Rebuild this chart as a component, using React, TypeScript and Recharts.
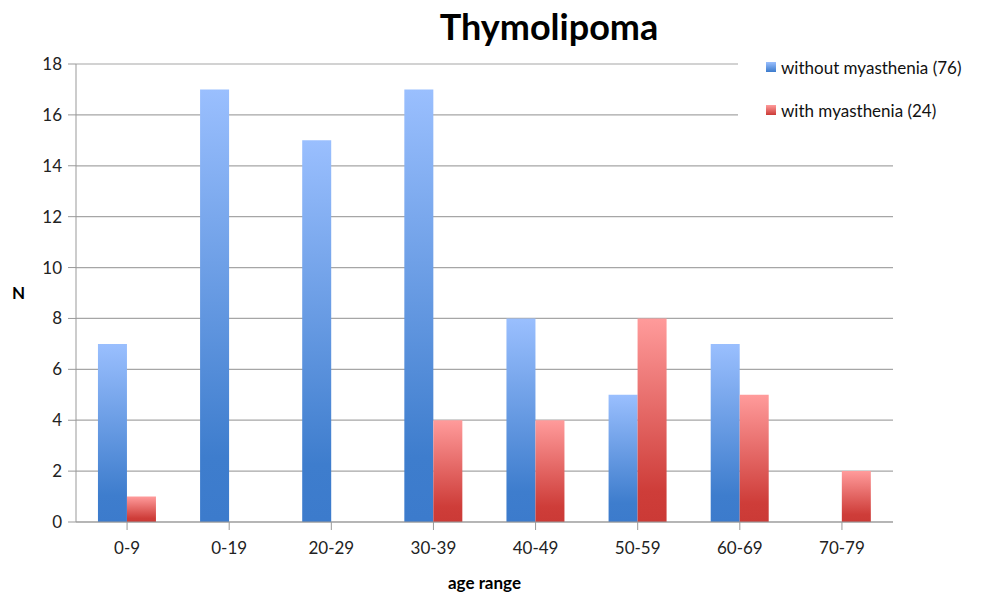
import React from 'react';
import { BarChart, Bar, XAxis, YAxis, CartesianGrid } from 'recharts';

const ageRanges = ['0-9', '0-19', '20-29', '30-39', '40-49', '50-59', '60-69', '70-79'];
const withoutMyasthenia = [7, 17, 15, 17, 8, 5, 7, 0];
const withMyasthenia = [1, 0, 0, 4, 4, 8, 5, 2];
const yTicks = [0, 2, 4, 6, 8, 10, 12, 14, 16, 18];

const data = ageRanges.map((range, i) => ({
  range,
  without: withoutMyasthenia[i],
  with: withMyasthenia[i],
}));

const FONT = 'Lato, "Open Sans", sans-serif';

const legendItems = [
  { label: 'without myasthenia (76)', grad: 'linear-gradient(#9abffe, #3c7bcc)' },
  { label: 'with myasthenia (24)', grad: 'linear-gradient(#ff9b9b, #cb3a36)' },
];

// legend drawn as plain html on a white box that covers the top grid lines, like excel does
const LegendBox = () => (
  <div
    style={{
      position: 'absolute',
      left: 738,
      top: 45,
      width: 255,
      height: 90,
      paddingLeft: 28,
      paddingTop: 10,
      boxSizing: 'border-box',
      background: '#fff',
      fontFamily: FONT,
      fontSize: 17,
      color: '#111',
    }}
  >
    {legendItems.map((it) => (
      <div key={it.label} style={{ display: 'flex', alignItems: 'center', height: 24, marginBottom: 19 }}>
        <span style={{ display: 'inline-block', width: 10, height: 10, background: it.grad, marginRight: 5 }} />
        <span>{it.label}</span>
      </div>
    ))}
  </div>
);

export default function App() {
  return (
    <div style={{ position: 'absolute', left: 0, top: 0, width: 993, height: 592, background: '#fff' }}>
      <div
        style={{
          position: 'absolute',
          left: 0,
          width: 1098,
          top: 4,
          textAlign: 'center',
          fontFamily: FONT,
          fontWeight: 'bold',
          fontSize: 36,
          color: '#000',
        }}
      >
        Thymolipoma
      </div>
      <BarChart
        width={993}
        height={592}
        data={data}
        margin={{ top: 64, right: 100, bottom: 0, left: 0 }}
        barCategoryGap="21.5%"
        barGap={0}
      >
        <defs>
          <linearGradient id="gBlue" x1="0" y1="0" x2="0" y2="1">
            <stop offset="0%" stopColor="#9abffe" />
            <stop offset="85%" stopColor="#3e7dcd" />
            <stop offset="100%" stopColor="#3c7bcc" />
          </linearGradient>
          <linearGradient id="gRed" x1="0" y1="0" x2="0" y2="1">
            <stop offset="0%" stopColor="#ff9b9b" />
            <stop offset="85%" stopColor="#ce3d39" />
            <stop offset="100%" stopColor="#cb3a36" />
          </linearGradient>
        </defs>
        <CartesianGrid vertical={false} stroke="#a6a6a6" strokeWidth={1.2} />
        <XAxis
          dataKey="range"
          height={70}
          tickSize={8}
          tickMargin={12}
          axisLine={{ stroke: '#999' }}
          tickLine={{ stroke: '#999' }}
          tick={{ fontSize: 17, fill: '#222', fontFamily: FONT }}
          interval={0}
          label={{
            value: 'age range',
            position: 'insideBottom',
            offset: 3,
            style: { fontFamily: FONT, fontWeight: 'bold', fontSize: 17, fill: '#000' },
          }}
        />
        <YAxis
          width={76}
          domain={[0, 18]}
          ticks={yTicks}
          interval={0}
          tickSize={8}
          tickMargin={6}
          axisLine={{ stroke: '#999' }}
          tickLine={{ stroke: '#999' }}
          tick={{ fontSize: 17, fill: '#222', fontFamily: FONT }}
          label={{
            value: 'N',
            position: 'insideLeft',
            offset: 12,
            style: { fontFamily: FONT, fontWeight: 'bold', fontSize: 17, fill: '#000' },
          }}
        />
        <Bar dataKey="without" name="without myasthenia (76)" fill="url(#gBlue)" isAnimationActive={false} />
        <Bar dataKey="with" name="with myasthenia (24)" fill="url(#gRed)" isAnimationActive={false} />
      </BarChart>
      <LegendBox />
    </div>
  );
}
